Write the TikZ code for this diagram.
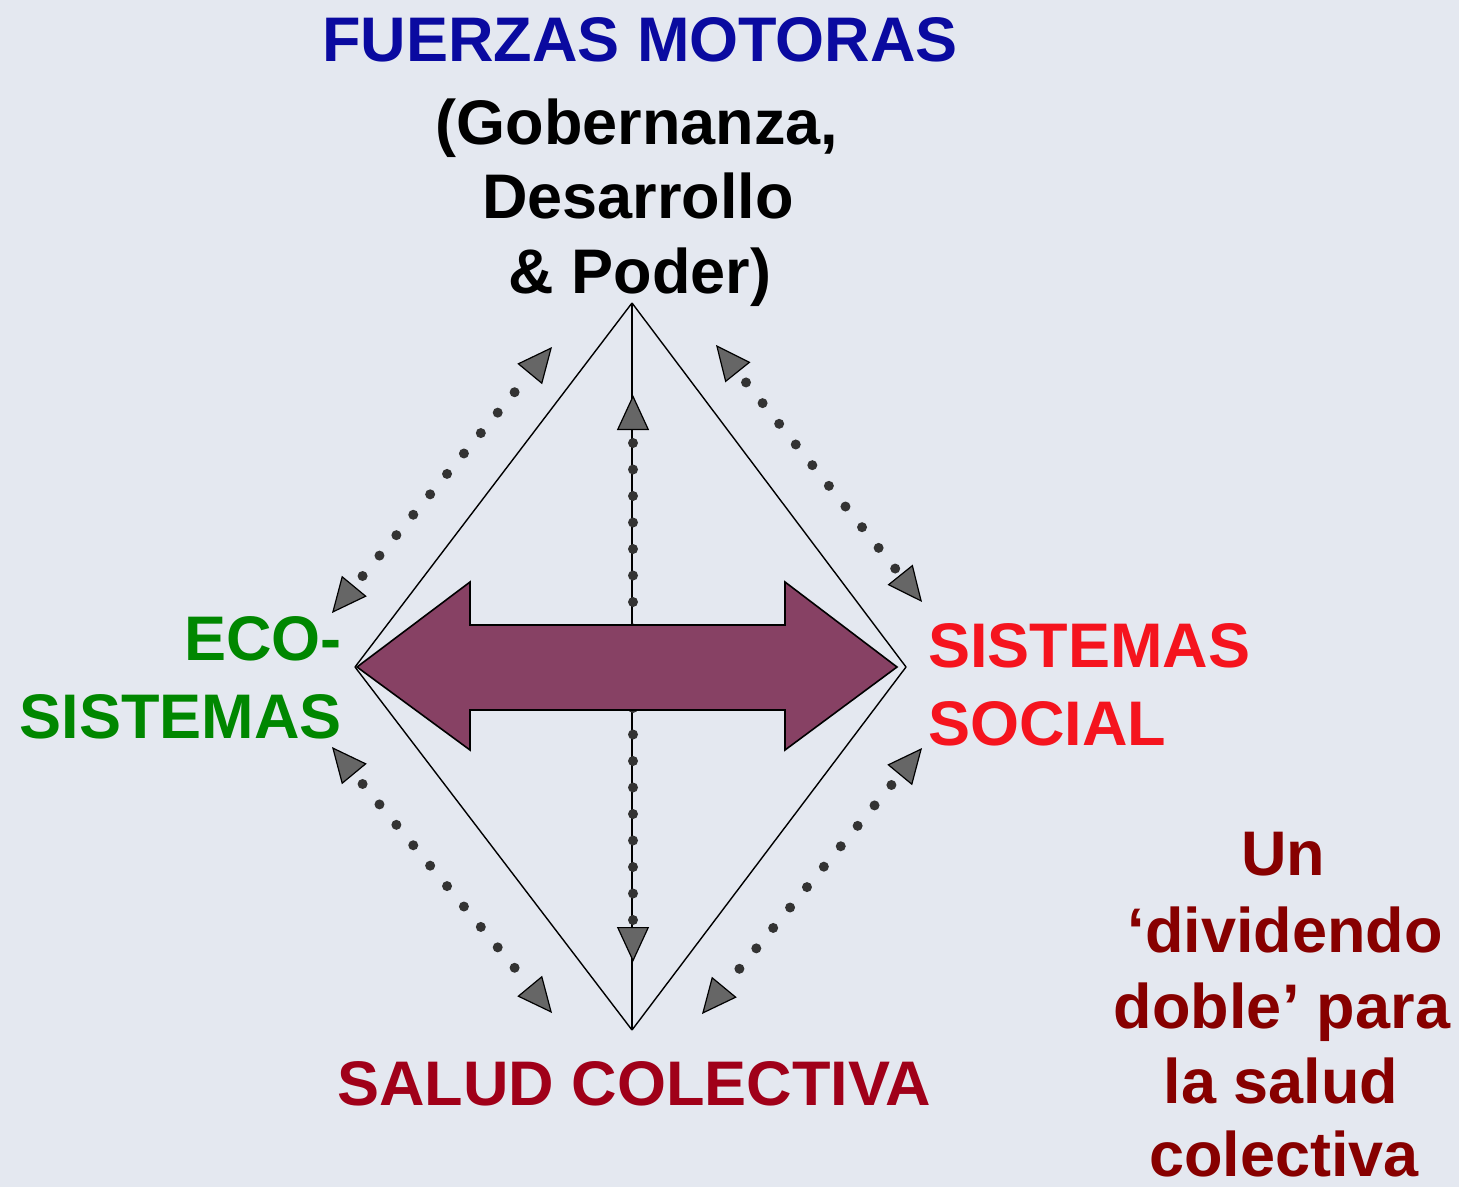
\documentclass[tikz,border=0pt]{standalone}
\usepackage{fontspec}
\setmainfont{Liberation Sans}
\usetikzlibrary{arrows.meta}
\definecolor{bgc}{RGB}{228,232,240}
\definecolor{fblue}{RGB}{10,10,160}
\definecolor{egreen}{RGB}{0,135,0}
\definecolor{sred}{RGB}{245,20,30}
\definecolor{dred}{RGB}{160,0,25}
\definecolor{mred}{RGB}{135,0,0}
\definecolor{arrowfill}{RGB}{135,65,100}
\begin{document}
\begin{tikzpicture}[x=0.5pt,y=-0.5pt,
  blbl/.style={inner sep=0pt, font=\fontsize{31.5}{36}\selectfont\bfseries},
  edge/.style={draw=black, line width=0.7pt},
  dotconn/.style={draw=black!80, line width=5pt, line cap=round,
     dash pattern=on 0pt off 13.25pt, dash phase=6.6pt,
     {Triangle[length=17.5pt,width=16pt,line width=0.6pt,fill=black!60,color=black]}-{Triangle[length=17.5pt,width=16pt,line width=0.6pt,fill=black!60,color=black]}},
  bigarrow/.style={draw=black, line width=0.8pt, fill=arrowfill, line join=miter}
]
\useasboundingbox (0,0) rectangle (1459,1187);
\fill[bgc] (0,0) rectangle (1459,1187);

% diamond vertices
\coordinate (top) at (632,303);
\coordinate (left) at (355,667);
\coordinate (right) at (906,667);
\coordinate (bot) at (632,1030);

\draw[edge] (top) -- (right);
\draw[edge] (right) -- (bot);
\draw[edge] (bot) -- (left);
\draw[edge] (left) -- (top);
\draw[edge] (top) -- (bot);

% dotted double arrows
\coordinate (ulA) at (332,613);
\coordinate (ulB) at (552,347);
\coordinate (urA) at (716,345);
\coordinate (urB) at (922,602);
\coordinate (llA) at (332,747);
\coordinate (llB) at (552,1013);
\coordinate (lrA) at (922,748);
\coordinate (lrB) at (702,1014);
\coordinate (vA) at (633,395);
\coordinate (vB) at (633,962);

\draw[dotconn] (ulA) -- (ulB);
\draw[dotconn] (urA) -- (urB);
\draw[dotconn] (llA) -- (llB);
\draw[dotconn] (lrA) -- (lrB);
\draw[dotconn] (vA) -- (vB);

% big double arrow
\coordinate (bl) at (357,667);
\coordinate (br) at (897,667);
\draw[bigarrow] (bl) -- (470,582) -- (470,625) -- (785,625) -- (785,582) -- (br)
  -- (785,750) -- (785,710) -- (470,710) -- (470,750) -- cycle;

% texts
\node[blbl, text=fblue, anchor=base] (fm) at (640,62) {FUERZAS MOTORAS};
\node[blbl, anchor=base] (gob) at (637,145) {(Gobernanza,};
\node[blbl, anchor=base] (des) at (638,219) {Desarrollo};
\node[blbl, anchor=base] (pod) at (640,293) {\& Poder)};

\node[blbl, text=egreen, anchor=base east] (eco1) at (342,660) {ECO-};
\node[blbl, text=egreen, anchor=base east] (eco2) at (342,738) {SISTEMAS};

\node[blbl, text=sred, anchor=base west] (soc1) at (928,667) {SISTEMAS};
\node[blbl, text=sred, anchor=base west] (soc2) at (928,745) {SOCIAL};

\node[blbl, text=dred, anchor=base] (salud) at (634,1105) {SALUD COLECTIVA};

\node[blbl, text=mred, anchor=base] (d1) at (1283,875) {Un};
\node[blbl, text=mred, anchor=base] (d2) at (1285,952) {‘dividendo};
\node[blbl, text=mred, anchor=base] (d3) at (1282,1028) {doble’ para};
\node[blbl, text=mred, anchor=base] (d4) at (1281,1103) {la salud};
\node[blbl, text=mred, anchor=base, text depth=0pt] (d5) at (1284,1176) {colectiva};
\end{tikzpicture}
\end{document}
